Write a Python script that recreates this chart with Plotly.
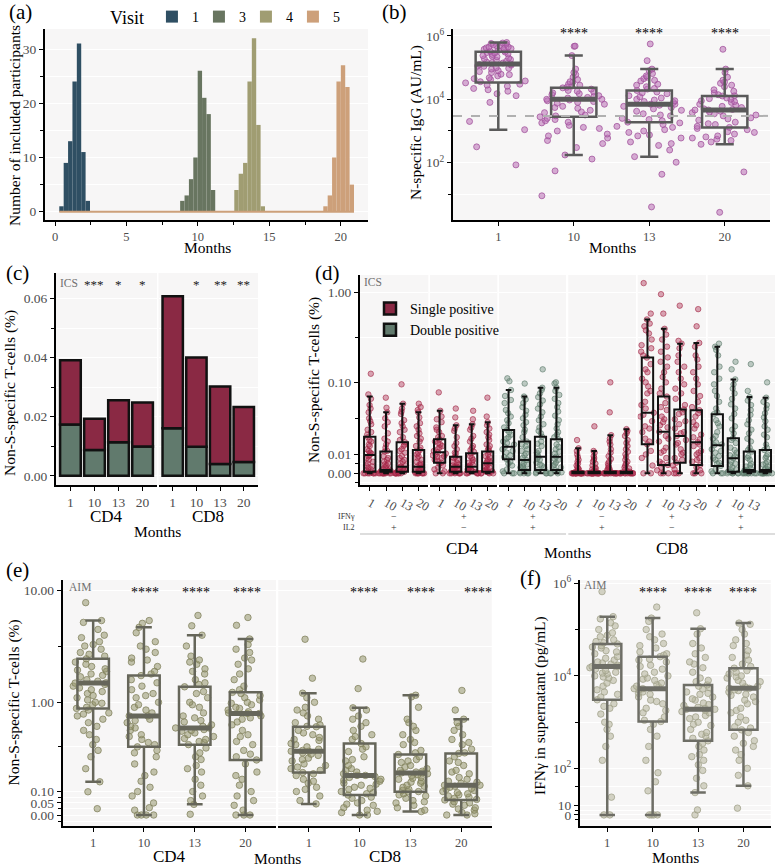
import math
import plotly.graph_objects as go

W, H = 777, 867
FONT = "Liberation Serif"
TICK_COLOR = "#4d4d4d"
PANEL_BG = "#f7f6f6"

# ------------------------------------------------------------------ data
months = ["1", "10", "13", "20"]

# (a) timing of visits (histogram counts per bin)
visit_labels = ["1", "3", "4", "5"]
visit_first_bin = [0.30, 8.76, 12.55, 18.78]      # month at left edge of first bin
visit_bin_width = 0.307
visit1_counts = [1, 9, 13, 24, 31, 11, 2]
visit3_counts = [2, 3, 6, 10, 26, 21, 18, 4]
visit4_counts = [4, 7, 9, 24, 32, 16, 1]
visit5_counts = [1, 3, 10, 24, 27, 23, 5]
visit_colors = ["#2f4f63", "#687560", "#a09d72", "#cda07a"]

# (b) N-specific IgG (AU/mL)
igg_m1 = [620000, 600000, 580000, 550000, 520000, 500000, 480000, 450000, 420000, 400000, 380000,
          350000, 330000, 310000, 290000, 260000, 240000, 220000, 200000, 180000, 160000, 150000,
          140000, 130000, 125000, 115000, 100000, 90000, 80000, 70000, 62000, 55000, 48000, 42000,
          36000, 33000, 30000, 26000, 22000, 18000, 15000, 13000, 8000, 2000, 1100, 316, 85,
          450000, 400000, 350000, 300000, 270000, 230000, 190000, 170000, 145000, 120000, 110000,
          95000, 75000, 60000, 45000, 38000, 28000, 20000]
igg_m10 = [480000, 470000, 240000, 90000, 70000, 60000, 50000, 42000, 36000, 30000, 26000, 23000,
           21000, 19000, 17000, 15000, 14000, 12500, 11000, 10000, 10000, 9000, 8000, 7000, 6000,
           5200, 4500, 3800, 3200, 2800, 2500, 2100, 1800, 1500, 1200, 1000, 800, 600, 400, 300,
           175, 130, 55, 9, 35000, 28000, 24000, 18000, 16000, 13000, 11500, 9500, 8500, 7500,
           5500, 4000, 3000, 2300, 1900, 1300, 700, 500]
igg_m13 = [560000, 166000, 90000, 80000, 65000, 55000, 45000, 38000, 30000, 25000, 21000, 19000,
           17000, 15000, 13000, 11000, 10000, 9000, 8000, 7000, 7000, 6000, 5000, 4200, 3500, 3000,
           2500, 2100, 1900, 1600, 1300, 1100, 900, 750, 600, 450, 350, 250, 155, 103, 43, 4,
           50000, 40000, 28000, 22000, 16000, 12000, 9500, 8500, 6500, 5500, 4500, 3200, 2300,
           1800, 1400, 1000, 700, 400]
igg_m20 = [380000, 90000, 70000, 50000, 40000, 32000, 25000, 20000, 16000, 14000, 12700, 11000,
           10000, 9000, 8000, 7000, 6000, 5000, 4600, 4600, 4000, 3500, 3000, 2600, 2200, 1900,
           1600, 1400, 1300, 1100, 950, 800, 700, 600, 500, 450, 380, 51, 2.7, 35000, 28000,
           18000, 13000, 10500, 8500, 6500, 5500, 4800, 4200, 3800, 3200, 2400, 1700, 1200, 900,
           650, 550]
igg_q1 = [34000, 2800, 1900, 1300]
igg_med = [130000, 10000, 7000, 4600]
igg_q3 = [320000, 23000, 19000, 12700]
igg_lo = [1100, 175, 155, 380]
igg_hi = [620000, 240000, 90000, 90000]
igg_cutoff = 3000
igg_stars = ["", "****", "****", "****"]

# (c) ICS stacked bars (% of T cells)
ics_total_cd4 = [0.0391, 0.0193, 0.0256, 0.0248]
ics_double_cd4 = [0.0174, 0.0087, 0.0114, 0.0099]
ics_total_cd8 = [0.0607, 0.0400, 0.0302, 0.0233]
ics_double_cd8 = [0.0161, 0.0098, 0.0040, 0.0047]
ics_stars_cd4 = ["", "***", "*", "*"]
ics_stars_cd8 = ["", "*", "**", "**"]

# (d) ICS by cytokine combination, facets: CD4(-+, +-, ++), CD8(-+, +-, ++)
d_facet_ifng = ["\u2212", "+", "+", "\u2212", "+", "+"]
d_facet_il2 = ["+", "\u2212", "+", "+", "\u2212", "+"]
d_facet_type = ["single", "single", "double", "single", "single", "double"]

d1_points = [
    [0.125, 0.073, 0.065, 0.055, 0.045, 0.038, 0.032, 0.027, 0.023, 0.021, 0.018, 0.015, 0.013, 0.011,
     0.0096, 0.008, 0.007, 0.005, 0.004, 0.003, 0.002, 0.001, 0.0005, 0, 0, 0, 0, 0,
     0.05, 0.035, 0.025, 0.019, 0.016, 0.012, 0.0105, 0.009, 0.006, 0.0035, 0.0015, 0, 0],
    [0.067, 0.051, 0.045, 0.038, 0.03, 0.024, 0.018, 0.014, 0.0116, 0.009, 0.007, 0.005, 0.004, 0.003,
     0.002, 0.0017, 0.0012, 0.001, 0.0008, 0.0005, 0, 0, 0, 0, 0, 0,
     0.034, 0.02, 0.016, 0.012, 0.008, 0.006, 0.0045, 0.0025, 0.0015, 0, 0, 0],
    [0.095, 0.057, 0.05, 0.043, 0.036, 0.03, 0.025, 0.021, 0.0175, 0.015, 0.012, 0.009, 0.007, 0.005,
     0.004, 0.0034, 0.003, 0.002, 0.0015, 0.001, 0.0008, 0, 0, 0, 0, 0,
     0.046, 0.033, 0.027, 0.019, 0.016, 0.013, 0.011, 0.008, 0.006, 0.0025, 0, 0],
    [0.057, 0.052, 0.045, 0.039, 0.033, 0.027, 0.022, 0.018, 0.015, 0.0126, 0.01, 0.008, 0.006, 0.005,
     0.004, 0.0034, 0.003, 0.002, 0.0015, 0.001, 0.0008, 0, 0, 0, 0, 0,
     0.048, 0.03, 0.024, 0.02, 0.014, 0.011, 0.009, 0.007, 0.0045, 0.0025, 0, 0]]
d1_q1 = [0.0008, 0.0008, 0.0008, 0.0008]
d1_med = [0.0096, 0.0017, 0.0034, 0.0034]
d1_q3 = [0.0214, 0.0116, 0.0175, 0.0126]
d1_lo = [0, 0, 0, 0]
d1_hi = [0.069, 0.045, 0.057, 0.045]

d2_points = [
    [0.077, 0.047, 0.04, 0.034, 0.029, 0.025, 0.022, 0.0195, 0.017, 0.015, 0.013, 0.0112, 0.01, 0.009,
     0.008, 0.007, 0.0055, 0.004, 0.003, 0.002, 0.001, 0,
     0.037, 0.027, 0.021, 0.018, 0.016, 0.014, 0.012, 0.0105, 0.0095, 0.0085, 0.0065, 0.005, 0],
    [0.05, 0.039, 0.031, 0.026, 0.021, 0.017, 0.013, 0.0105, 0.0087, 0.007, 0.0055, 0.0045, 0.0034,
     0.003, 0.0025, 0.002, 0.0015, 0.001, 0.0008, 0.0004, 0, 0, 0, 0,
     0.028, 0.015, 0.011, 0.008, 0.006, 0.004, 0.0035, 0.002, 0.001, 0, 0],
    [0.047, 0.037, 0.032, 0.027, 0.022, 0.018, 0.015, 0.0125, 0.0106, 0.009, 0.007, 0.0055, 0.0045,
     0.0034, 0.003, 0.0025, 0.002, 0.0015, 0.001, 0.0008, 0.0004, 0, 0, 0,
     0.029, 0.02, 0.014, 0.0115, 0.008, 0.006, 0.004, 0.0035, 0.002, 0, 0],
    [0.067, 0.04, 0.034, 0.028, 0.023, 0.019, 0.016, 0.0135, 0.0116, 0.01, 0.0085, 0.007, 0.006,
     0.0052, 0.0045, 0.0035, 0.0025, 0.0018, 0.0012, 0.0008, 0.0004, 0, 0, 0,
     0.031, 0.025, 0.021, 0.015, 0.0125, 0.009, 0.0065, 0.0055, 0.003, 0.001, 0]]
d2_q1 = [0.0055, 0.0008, 0.0008, 0.0008]
d2_med = [0.0112, 0.0034, 0.0034, 0.0052]
d2_q3 = [0.0195, 0.0087, 0.0106, 0.0116]
d2_lo = [0, 0, 0, 0]
d2_hi = [0.047, 0.031, 0.032, 0.034]

d3_points = [
    [0.111, 0.103, 0.082, 0.07, 0.058, 0.048, 0.04, 0.033, 0.0267, 0.023, 0.02, 0.017, 0.0145, 0.013,
     0.011, 0.0095, 0.0073, 0.006, 0.004, 0.002, 0.001, 0, 0,
     0.063, 0.044, 0.036, 0.029, 0.025, 0.021, 0.018, 0.016, 0.012, 0.0085, 0.005, 0],
    [0.097, 0.069, 0.058, 0.047, 0.038, 0.031, 0.025, 0.021, 0.018, 0.015, 0.012, 0.0095, 0.0069, 0.006,
     0.0045, 0.0035, 0.0025, 0.0017, 0.001, 0.0005, 0, 0, 0,
     0.064, 0.052, 0.042, 0.034, 0.027, 0.016, 0.013, 0.0105, 0.008, 0.005, 0.003, 0],
    [0.14, 0.087, 0.075, 0.062, 0.05, 0.04, 0.032, 0.026, 0.0214, 0.018, 0.015, 0.012, 0.01, 0.0087,
     0.007, 0.0055, 0.004, 0.003, 0.0017, 0.001, 0.0005, 0, 0,
     0.082, 0.068, 0.056, 0.045, 0.036, 0.029, 0.024, 0.0165, 0.011, 0.0075, 0.0045, 0],
    [0.1, 0.097, 0.087, 0.072, 0.058, 0.046, 0.036, 0.028, 0.023, 0.0195, 0.016, 0.013, 0.0105, 0.0087,
     0.007, 0.0055, 0.004, 0.003, 0.0017, 0.001, 0.0005, 0, 0,
     0.08, 0.065, 0.052, 0.041, 0.032, 0.025, 0.021, 0.0145, 0.0115, 0.0075, 0.0045, 0]]
d3_q1 = [0.0073, 0.0017, 0.0017, 0.0017]
d3_med = [0.0145, 0.0069, 0.0087, 0.0087]
d3_q3 = [0.0267, 0.018, 0.0214, 0.0195]
d3_lo = [0, 0, 0, 0]
d3_hi = [0.082, 0.069, 0.087, 0.087]

d4_points = [
    [0.019, 0.0136, 0.01, 0.007, 0.005, 0.003, 0.002, 0.0012, 0.0008, 0.0004, 0, 0, 0, 0, 0, 0, 0, 0, 0, 0,
     0.012, 0.0085, 0.006, 0.004, 0.0025, 0.0015, 0, 0, 0, 0, 0, 0],
    [0.03, 0.012, 0.009, 0.007, 0.005, 0.003, 0.002, 0.0012, 0.0008, 0.0004, 0, 0, 0, 0, 0, 0, 0, 0, 0, 0,
     0.011, 0.008, 0.006, 0.004, 0.0025, 0.0015, 0, 0, 0, 0, 0, 0],
    [0.1, 0.045, 0.0226, 0.018, 0.013, 0.009, 0.006, 0.004, 0.0025, 0.0015, 0.0008, 0.0004, 0, 0, 0, 0,
     0, 0, 0, 0, 0.02, 0.016, 0.011, 0.0075, 0.005, 0.003, 0.002, 0, 0, 0, 0, 0],
    [0.0275, 0.026, 0.022, 0.017, 0.013, 0.01, 0.007, 0.005, 0.003, 0.002, 0.0012, 0.0008, 0.0004, 0, 0,
     0, 0, 0, 0, 0, 0.024, 0.019, 0.015, 0.0115, 0.0085, 0.006, 0.004, 0.0025, 0, 0, 0, 0]]
d4_q1 = [0, 0, 0, 0]
d4_med = [0, 0, 0, 0]
d4_q3 = [0.0008, 0.0008, 0.0008, 0.0008]
d4_lo = [0, 0, 0, 0]
d4_hi = [0.0136, 0.012, 0.0226, 0.0275]

d5_points = [
    [1.26, 0.58, 0.5, 0.42, 0.35, 0.3, 0.26, 0.22, 0.189, 0.16, 0.13, 0.11, 0.09, 0.075, 0.06, 0.05,
     0.0445, 0.04, 0.035, 0.03, 0.025, 0.02, 0.0161, 0.012, 0.008, 0.004, 0, 0,
     0.45, 0.38, 0.24, 0.2, 0.14, 0.1, 0.08, 0.055, 0.042, 0.028, 0.018, 0.01],
    [0.95, 0.58, 0.394, 0.3, 0.22, 0.17, 0.13, 0.1, 0.085, 0.069, 0.058, 0.048, 0.04, 0.034, 0.029,
     0.0253, 0.022, 0.018, 0.014, 0.011, 0.008, 0.006, 0.0043, 0.003, 0.0015, 0, 0, 0,
     0.34, 0.25, 0.19, 0.15, 0.115, 0.075, 0.052, 0.037, 0.031, 0.02, 0.012, 0.005],
    [0.71, 0.29, 0.27, 0.2, 0.15, 0.11, 0.085, 0.065, 0.0488, 0.043, 0.037, 0.032, 0.028, 0.025, 0.022,
     0.019, 0.016, 0.013, 0.01, 0.008, 0.0055, 0.004, 0.002, 0, 0, 0,
     0.24, 0.17, 0.13, 0.095, 0.075, 0.055, 0.045, 0.035, 0.024, 0.017, 0.011, 0.007],
    [0.65, 0.42, 0.275, 0.2, 0.15, 0.11, 0.08, 0.06, 0.0478, 0.04, 0.034, 0.028, 0.023, 0.0195, 0.0175,
     0.015, 0.012, 0.01, 0.008, 0.006, 0.0043, 0.003, 0.0015, 0, 0, 0,
     0.25, 0.18, 0.13, 0.095, 0.07, 0.052, 0.044, 0.031, 0.021, 0.016, 0.011, 0.007]]
d5_q1 = [0.0161, 0.0043, 0.0055, 0.0043]
d5_med = [0.0445, 0.0253, 0.022, 0.0175]
d5_q3 = [0.189, 0.069, 0.0488, 0.0478]
d5_lo = [0, 0, 0, 0]
d5_hi = [0.50, 0.394, 0.27, 0.275]

d6_points = [
    [0.27, 0.25, 0.2, 0.15, 0.11, 0.08, 0.06, 0.05, 0.0427, 0.036, 0.03, 0.025, 0.02, 0.0175, 0.0155,
     0.013, 0.011, 0.009, 0.007, 0.0055, 0.0038, 0.002, 0.001, 0, 0,
     0.23, 0.13, 0.095, 0.07, 0.045, 0.033, 0.022, 0.016, 0.012, 0.008, 0.005, 0],
    [0.17, 0.14, 0.108, 0.085, 0.065, 0.05, 0.038, 0.03, 0.024, 0.0203, 0.017, 0.014, 0.011, 0.0095,
     0.0079, 0.006, 0.0045, 0.003, 0.002, 0.0008, 0.0004, 0, 0, 0,
     0.095, 0.075, 0.056, 0.043, 0.027, 0.019, 0.0125, 0.009, 0.005, 0.0015, 0, 0],
    [0.16, 0.08, 0.068, 0.055, 0.042, 0.032, 0.024, 0.018, 0.014, 0.0116, 0.009, 0.007, 0.005, 0.0035,
     0.0025, 0.0017, 0.0012, 0.0008, 0.0004, 0, 0, 0, 0, 0,
     0.062, 0.048, 0.036, 0.027, 0.02, 0.0125, 0.008, 0.004, 0.0015, 0, 0, 0],
    [0.1, 0.067, 0.055, 0.044, 0.035, 0.027, 0.021, 0.016, 0.0126, 0.01, 0.008, 0.006, 0.0045, 0.0035,
     0.0025, 0.0017, 0.0012, 0.0008, 0.0004, 0, 0, 0, 0, 0,
     0.06, 0.05, 0.039, 0.03, 0.023, 0.014, 0.009, 0.005, 0.002, 0, 0, 0]]
d6_q1 = [0.0038, 0.0008, 0.0008, 0.0008]
d6_med = [0.0155, 0.0079, 0.0017, 0.0017]
d6_q3 = [0.0427, 0.0203, 0.0116, 0.0126]
d6_lo = [0, 0, 0, 0]
d6_hi = [0.25, 0.108, 0.068, 0.067]

# (e) AIM (% of T cells)
aim_cd4_points = [
    [7.8, 5.4, 5.2, 4.5, 4.0, 3.8, 3.5, 3.2, 3.0, 2.8, 2.6, 2.46, 2.3, 2.1, 2.0, 1.9, 1.8, 1.7, 1.6,
     1.5, 1.49, 1.45, 1.4, 1.3, 1.25, 1.2, 1.1, 1.05, 1.0, 0.95, 0.9, 0.88, 0.8, 0.75, 0.7, 0.65, 0.55,
     0.45, 0.4, 0.3, 0.22, 0.147, 0.099, 0.026,
     3.3, 2.7, 2.2, 1.95, 1.75, 1.55, 1.35, 1.15, 0.98, 0.85, 0.78, 0.6, 0.5, 0.35],
    [5.4, 5.1, 4.7, 4.2, 3.5, 3.0, 2.8, 2.5, 2.3, 2.1, 1.9, 1.74, 1.6, 1.5, 1.3, 1.2, 1.1, 1.0, 0.9,
     0.8, 0.75, 0.75, 0.7, 0.65, 0.6, 0.55, 0.5, 0.45, 0.4, 0.38, 0.35, 0.3, 0.25, 0.2, 0.15, 0.12,
     0.08, 0.05, 0.03, 0.02, 0.0, 0.0, 0.0, 0.0,
     3.2, 2.4, 1.8, 1.4, 1.15, 0.95, 0.85, 0.68, 0.58, 0.48, 0.42, 0.33, 0.18, 0.1],
    [6.0, 4.85, 4.0, 3.2, 2.6, 2.4, 2.2, 2.0, 1.8, 1.6, 1.5, 1.38, 1.25, 1.1, 1.0, 0.9, 0.8, 0.72,
     0.66, 0.62, 0.58, 0.58, 0.55, 0.52, 0.5, 0.48, 0.45, 0.42, 0.40, 0.37, 0.33, 0.28, 0.24, 0.2,
     0.16, 0.13, 0.1, 0.08, 0.06, 0.044, 0.003,
     2.3, 1.9, 1.45, 1.2, 0.95, 0.75, 0.68, 0.6, 0.56, 0.54, 0.46, 0.43, 0.3, 0.22],
    [5.75, 4.9, 3.7, 3.0, 2.8, 2.5, 2.2, 2.0, 1.8, 1.6, 1.4, 1.23, 1.15, 1.1, 1.0, 0.95, 0.9, 0.85,
     0.8, 0.79, 0.79, 0.75, 0.7, 0.62, 0.55, 0.48, 0.4, 0.35, 0.3, 0.277, 0.25, 0.2, 0.16, 0.13, 0.1,
     0.08, 0.06, 0.04, 0.02, 0.0, 0.0, 0.0,
     3.3, 2.4, 1.3, 1.2, 1.05, 0.98, 0.88, 0.82, 0.72, 0.66, 0.5, 0.43, 0.32, 0.18]]
aim_cd4_q1 = [0.88, 0.38, 0.40, 0.277]
aim_cd4_med = [1.49, 0.75, 0.58, 0.79]
aim_cd4_q3 = [2.46, 1.74, 1.38, 1.23]
aim_cd4_lo = [0.147, 0.0, 0.044, 0.0]
aim_cd4_hi = [5.4, 4.7, 4.0, 3.7]

aim_cd8_points = [
    [3.68, 1.65, 1.21, 1.1, 1.0, 0.9, 0.8, 0.75, 0.7, 0.65, 0.6, 0.595, 0.55, 0.5, 0.47, 0.44, 0.41,
     0.38, 0.36, 0.343, 0.343, 0.33, 0.31, 0.29, 0.27, 0.25, 0.23, 0.21, 0.197, 0.18, 0.16, 0.14,
     0.12, 0.1, 0.08, 0.06, 0.046,
     0.85, 0.62, 0.52, 0.45, 0.4, 0.35, 0.32, 0.28, 0.24, 0.22, 0.19, 0.15, 0.11],
    [2.45, 1.33, 0.89, 0.85, 0.75, 0.65, 0.6, 0.55, 0.5, 0.45, 0.41, 0.38, 0.34, 0.3, 0.27, 0.24,
     0.22, 0.2, 0.19, 0.181, 0.181, 0.17, 0.16, 0.15, 0.14, 0.13, 0.12, 0.11, 0.1, 0.09, 0.084, 0.07,
     0.06, 0.05, 0.04, 0.03, 0.02, 0.01, 0.0, 0.0,
     0.7, 0.48, 0.36, 0.28, 0.21, 0.175, 0.155, 0.135, 0.115, 0.095, 0.075, 0.045, 0.015],
    [1.16, 1.12, 0.9, 0.7, 0.6, 0.55, 0.5, 0.45, 0.4, 0.35, 0.317, 0.3, 0.28, 0.26, 0.24, 0.22, 0.21,
     0.2, 0.195, 0.195, 0.19, 0.18, 0.17, 0.16, 0.15, 0.14, 0.13, 0.12, 0.11, 0.1, 0.099, 0.09, 0.08,
     0.07, 0.06, 0.05, 0.04, 0.03, 0.02, 0.014,
     0.65, 0.42, 0.33, 0.27, 0.23, 0.205, 0.185, 0.165, 0.145, 0.125, 0.105, 0.085, 0.055],
    [1.28, 0.85, 0.7, 0.65, 0.55, 0.5, 0.45, 0.4, 0.36, 0.325, 0.3, 0.27, 0.24, 0.21, 0.19, 0.17,
     0.15, 0.14, 0.13, 0.13, 0.125, 0.12, 0.11, 0.1, 0.095, 0.09, 0.08, 0.075, 0.07, 0.0625, 0.055,
     0.05, 0.04, 0.03, 0.02, 0.01, 0.0, 0.0,
     0.6, 0.42, 0.33, 0.26, 0.2, 0.16, 0.145, 0.115, 0.105, 0.085, 0.065, 0.045, 0.025, 0.005]]
aim_cd8_q1 = [0.197, 0.084, 0.099, 0.0625]
aim_cd8_med = [0.343, 0.181, 0.195, 0.13]
aim_cd8_q3 = [0.595, 0.41, 0.317, 0.325]
aim_cd8_lo = [0.046, 0.0, 0.014, 0.0]
aim_cd8_hi = [1.21, 0.89, 1.16, 0.70]
aim_stars = ["", "****", "****", "****"]

# (f) IFN-gamma in supernatant (pg/mL)
ifng_points = [
    [660000, 190000, 170000, 140000, 120000, 100000, 85000, 70000, 60000, 52000, 49000, 45000, 40000,
     35000, 30000, 26000, 22000, 19000, 17000, 16000, 16000, 15000, 13000, 12000, 11000, 10000, 9000,
     8000, 7000, 6000, 5000, 4000, 3500, 3050, 2500, 2000, 1500, 1000, 700, 500, 300, 150, 20, 0, 0,
     75000, 55000, 42000, 33000, 24000, 20000, 18000, 14000, 11500, 9500, 4500, 2200, 900],
    [306000, 177000, 150000, 100000, 80000, 60000, 50000, 40000, 33000, 28000, 26000, 23000, 20000,
     17000, 14000, 12000, 10000, 9000, 8000, 7000, 6000, 5300, 5300, 5000, 4500, 4000, 3500, 3000,
     2500, 2000, 1600, 1300, 1035, 900, 700, 500, 300, 150, 80, 50, 30, 0, 0, 0, 0,
     70000, 45000, 30000, 22000, 16000, 11000, 8500, 6500, 5800, 4200, 2800, 1800, 1100],
    [230000, 104000, 80000, 50000, 30000, 25000, 20000, 15000, 12000, 9000, 7500, 6400, 6000, 5200,
     4500, 4000, 3500, 3000, 2600, 2300, 2100, 1900, 1900, 1800, 1600, 1400, 1200, 1000, 850, 700,
     600, 500, 396, 350, 300, 250, 200, 150, 120, 90, 60, 40, 27, 5, 0,
     40000, 18000, 8000, 5600, 4200, 3200, 2400, 2000, 1700, 1300, 900, 550, 450, 180],
    [138000, 130000, 100000, 80000, 60000, 45000, 35000, 28000, 22000, 18000, 14700, 13000, 11000,
     10000, 9000, 8000, 7000, 6000, 5400, 5400, 5000, 4500, 4000, 3500, 3000, 2500, 2000, 1600, 1300,
     1000, 800, 684, 600, 500, 400, 300, 250, 200, 150, 100, 70, 40, 6.8,
     50000, 25000, 16000, 12000, 9500, 7500, 5800, 4800, 3800, 2800, 1800, 1100, 750, 350]]
ifng_q1 = [3050, 1035, 396, 684]
ifng_med = [16000, 5300, 1900, 5400]
ifng_q3 = [49000, 26000, 6400, 14700]
ifng_lo = [0, 0, 27, 40]
ifng_hi = [190000, 177000, 104000, 138000]
ifng_stars = ["", "****", "****", "****"]

SINGLE_C = "#8a2944"
DOUBLE_C = "#617a6d"


# ------------------------------------------------------------------ helpers
def px(x):
    return x / W


def py(y):
    return 1 - y / H


def dom_x(a, b):
    return [a / W, b / W]


def dom_y(top, bottom):
    return [1 - bottom / H, 1 - top / H]


def pseudo_log(sigma):
    return lambda v: math.asinh(v / (2 * sigma)) / math.log(10)


T_d = pseudo_log(0.01)
T_e = pseudo_log(0.1)
T_f = pseudo_log(10)


def ident(v):
    return v


def names(n):
    return ("x" if n == 1 else f"x{n}"), ("y" if n == 1 else f"y{n}")


fig = go.Figure()
axes = {}
ann = []
shapes = []


def tickfont(size=13.5):
    return dict(family=FONT, size=size, color=TICK_COLOR)


def xcfg(**kw):
    d = dict(showline=True, linecolor="black", linewidth=2, ticks="outside", ticklen=4,
             tickwidth=1.2, tickcolor="black", showgrid=False, zeroline=False,
             tickfont=tickfont(12.5), fixedrange=True)
    d.update(kw)
    return d


def ycfg(show=True, **kw):
    d = dict(showline=show, linecolor="black", linewidth=2, ticks="outside" if show else "",
             ticklen=4, tickwidth=1.2, tickcolor="black", showgrid=True, gridcolor="white",
             gridwidth=1.3, zeroline=False, showticklabels=show, tickfont=tickfont(),
             fixedrange=True)
    d.update(kw)
    return d


def minor(vals, show=True):
    return dict(tickmode="array", tickvals=vals, ticks="outside" if show else "", ticklen=3,
                tickcolor="black", tickwidth=1, showgrid=True, gridcolor="white", gridwidth=0.7)


def set_axes(n, xd, yd, xc, yc):
    xs, ys = names(n)
    key = "" if n == 1 else str(n)
    xc = dict(xc)
    xc.update(domain=xd, anchor=ys)
    yc = dict(yc)
    yc.update(domain=yd, anchor=xs)
    axes["xaxis" + key] = xc
    axes["yaxis" + key] = yc


def text(x, y, s, size, color="black", xanchor="center", yanchor="middle", angle=0,
         xref="paper", yref="paper"):
    ann.append(dict(x=x, y=y, xref=xref, yref=yref, text=s, showarrow=False, textangle=angle,
                    xanchor=xanchor, yanchor=yanchor,
                    font=dict(family=FONT, size=size, color=color)))


def add_boxes(n, pts_lists, q1, med, q3, lo, hi, tf, pt_fill, pt_line, msize, box_color,
              box_lw, box_w, pt_w, med_lw=None, whisk=0.45):
    xs, ys = names(n)
    bx, by = [], []
    for i, pts in enumerate(pts_lists):
        bx += [i + 1] * len(pts)
        by += [tf(v) for v in pts]
    fig.add_trace(go.Box(
        x=bx, y=by, xaxis=xs, yaxis=ys, boxpoints="all", jitter=1, pointpos=0, width=pt_w,
        line=dict(width=0, color="rgba(0,0,0,0)"), fillcolor="rgba(0,0,0,0)",
        marker=dict(size=msize, color=pt_fill, line=dict(width=1, color=pt_line)),
        hoverinfo="skip", showlegend=False))
    pos = list(range(1, len(q1) + 1))
    fig.add_trace(go.Box(
        x=pos, q1=[tf(v) for v in q1], median=[tf(v) for v in med], q3=[tf(v) for v in q3],
        lowerfence=[tf(v) for v in lo], upperfence=[tf(v) for v in hi], boxpoints=False,
        width=box_w, whiskerwidth=whisk, line=dict(color=box_color, width=box_lw),
        fillcolor="rgba(0,0,0,0)", xaxis=xs, yaxis=ys, hoverinfo="skip", showlegend=False))
    if med_lw:
        lx, ly = [], []
        for i, m in enumerate(med):
            lx += [i + 1 - box_w / 2, i + 1 + box_w / 2, None]
            ly += [tf(m), tf(m), None]
        fig.add_trace(go.Scatter(x=lx, y=ly, mode="lines", xaxis=xs, yaxis=ys,
                                 line=dict(color=box_color, width=med_lw),
                                 hoverinfo="skip", showlegend=False))


cat_pos = [1, 2, 3, 4]
CAT_RANGE = [0.4, 4.6]

# ------------------------------------------------------------------ (a)
counts_all = [visit1_counts, visit3_counts, visit4_counts, visit5_counts]
for lab, start, counts, col in zip(visit_labels, visit_first_bin, counts_all, visit_colors):
    centers = [start + visit_bin_width * (i + 0.5) for i in range(len(counts))]
    fig.add_trace(go.Bar(x=centers, y=counts, width=visit_bin_width, name=lab,
                         marker=dict(color=col, line=dict(width=0)), xaxis="x", yaxis="y",
                         legend="legend", hoverinfo="skip"))
span_start = min(visit_first_bin)
span_end = max(s + visit_bin_width * len(c) for s, c in zip(visit_first_bin, counts_all))
fig.add_trace(go.Scatter(x=[span_start, span_end], y=[0, 0], mode="lines",
                         line=dict(color=visit_colors[-1], width=2), xaxis="x", yaxis="y",
                         showlegend=False, hoverinfo="skip"))
set_axes(1, dom_x(45, 368), dom_y(29, 220),
         xcfg(range=[-0.70, 21.91], tickmode="array", tickvals=[0, 5, 10, 15, 20],
              minor=dict(tickmode="linear", tick0=0, dtick=2.5, ticks="outside", ticklen=3,
                         tickcolor="black", showgrid=False)),
         ycfg(range=[-1.53, 33.69], tickmode="array", tickvals=[0, 10, 20, 30],
              minor=minor([5, 15, 25])))
text(px(14), py(126), "Number of included participants", 15.5, angle=-90)
text(px(207), py(247), "Months", 15.5)
text(px(20), py(12), "(a)", 21)

# ------------------------------------------------------------------ (b)
fig.add_trace(go.Scatter(x=CAT_RANGE, y=[igg_cutoff, igg_cutoff], mode="lines",
                         line=dict(color="#b0b0b0", width=2, dash="dash"), xaxis="x2",
                         yaxis="y2", showlegend=False, hoverinfo="skip"))
add_boxes(2, [igg_m1, igg_m10, igg_m13, igg_m20], igg_q1, igg_med, igg_q3, igg_lo, igg_hi, ident,
          "rgba(185,110,180,0.55)", "rgba(160,80,155,0.75)", 6, "#5a5a5a", 2.5, 0.6, 0.9,
          med_lw=5, whisk=0.4)
set_axes(2, dom_x(453, 770), dom_y(29, 220),
         xcfg(range=CAT_RANGE, tickmode="array", tickvals=cat_pos, ticktext=months),
         ycfg(type="log", range=[0.19, 6.22], tickmode="array", tickvals=[1e2, 1e4, 1e6],
              ticktext=["10<sup>2</sup>", "10<sup>4</sup>", "10<sup>6</sup>"],
              minor=minor([1e1, 1e3, 1e5])))
for i, s in enumerate(igg_stars):
    if s:
        text(cat_pos[i], py(33), s, 14, xref="x2")
text(px(416), py(123), "N-specific IgG (AU/mL)", 15.5, angle=-90)
text(px(612), py(247), "Months", 15.5)
text(px(395), py(12), "(b)", 21)

# ------------------------------------------------------------------ (c)
c_dom_y = dom_y(273, 485)
c_yc = dict(range=[-0.0031, 0.0686], tickmode="array", tickvals=[0, 0.02, 0.04, 0.06],
            ticktext=["0.00", "0.02", "0.04", "0.06"])
for n, tot, dbl, stars, xd, show in [(3, ics_total_cd4, ics_double_cd4, ics_stars_cd4, dom_x(56, 157), True),
                                     (4, ics_total_cd8, ics_double_cd8, ics_stars_cd8, dom_x(158.5, 258), False)]:
    xs, ys = names(n)
    fig.add_trace(go.Bar(x=cat_pos, y=dbl, width=0.86, name="Double positive",
                         marker=dict(color=DOUBLE_C, line=dict(color="#111111", width=2.5)),
                         xaxis=xs, yaxis=ys, legend="legend2", showlegend=show, hoverinfo="skip"))
    fig.add_trace(go.Bar(x=cat_pos, y=[t - d for t, d in zip(tot, dbl)], base=dbl, width=0.86,
                         name="Single positive",
                         marker=dict(color=SINGLE_C, line=dict(color="#111111", width=2.5)),
                         xaxis=xs, yaxis=ys, legend="legend2", showlegend=show, hoverinfo="skip"))
    set_axes(n, xd, c_dom_y,
             xcfg(range=CAT_RANGE, tickmode="array", tickvals=cat_pos, ticktext=months,
                  tickfont=tickfont(13.5)),
             ycfg(show=(n == 3), minor=minor([0.01, 0.03, 0.05], show=(n == 3)), **c_yc))
    for i, s in enumerate(stars):
        if s:
            text(cat_pos[i], py(284), s, 13, color="#222222", xref=xs)
text(px(58), py(283), "ICS", 11.5, color="#707070", xanchor="left")
text(px(106.5), py(516), "CD4", 17)
text(px(208), py(516), "CD8", 17)
text(px(157), py(531), "Months", 15.5)
text(px(10), py(393), "Non-S-specific T-cells (%)", 15.5, angle=-90)
text(px(17), py(273), "(c)", 21)

# ------------------------------------------------------------------ (d)
d_edges = [(360, 428.3), (430, 497.3), (499, 566), (568.3, 636), (637.7, 706), (707.7, 775)]
d_sets = [(d1_points, d1_q1, d1_med, d1_q3, d1_lo, d1_hi),
          (d2_points, d2_q1, d2_med, d2_q3, d2_lo, d2_hi),
          (d3_points, d3_q1, d3_med, d3_q3, d3_lo, d3_hi),
          (d4_points, d4_q1, d4_med, d4_q3, d4_lo, d4_hi),
          (d5_points, d5_q1, d5_med, d5_q3, d5_lo, d5_hi),
          (d6_points, d6_q1, d6_med, d6_q3, d6_lo, d6_hi)]
d_major = [0, 0.01, 0.1, 1]
d_minor = [(T_d(-0.01) + T_d(0)) / 2] + [(T_d(a) + T_d(b)) / 2 for a, b in zip(d_major[:-1], d_major[1:])]
for k, ((x0, x1), ds) in enumerate(zip(d_edges, d_sets)):
    n = 5 + k
    if d_facet_type[k] == "single":
        fill, edge = "rgba(175,45,80,0.42)", "rgba(160,35,65,0.6)"
    else:
        fill, edge = "rgba(105,135,120,0.42)", "rgba(90,120,105,0.6)"
    add_boxes(n, ds[0], ds[1], ds[2], ds[3], ds[4], ds[5], T_d, fill, edge, 5.5, "#111111", 2,
              0.7, 0.9, whisk=0.5)
    set_axes(n, dom_x(x0, x1), dom_y(275, 485),
             xcfg(range=CAT_RANGE, tickmode="array", tickvals=cat_pos, ticktext=months,
                  tickangle=30, tickfont=tickfont(12.5)),
             ycfg(show=(k == 0), range=[-0.129, 2.19], tickmode="array",
                  tickvals=[T_d(v) for v in d_major], ticktext=["0.00", "0.01", "0.10", "1.00"],
                  minor=minor(d_minor, show=(k == 0))))
    xc = (x0 + x1) / 2
    text(px(xc), py(516), d_facet_ifng[k], 10, color="#333333")
    text(px(xc), py(527), d_facet_il2[k], 10, color="#333333")
text(px(357), py(516), "IFN\u03b3", 8, color="#333333", xanchor="right")
text(px(357), py(527), "IL2", 8, color="#333333", xanchor="right")
shapes.append(dict(type="line", xref="paper", yref="paper", x0=px(360), x1=px(566),
                   y0=py(534), y1=py(534), line=dict(color="#bbbbbb", width=1)))
shapes.append(dict(type="line", xref="paper", yref="paper", x0=px(568.3), x1=px(775),
                   y0=py(534), y1=py(534), line=dict(color="#bbbbbb", width=1)))
text(px(463), py(548), "CD4", 17)
text(px(672), py(548), "CD8", 17)
text(px(567), py(552), "Months", 15.5)
text(px(362), py(282), "ICS", 11.5, color="#707070", xanchor="left")
text(px(314), py(380), "Non-S-specific T-cells (%)", 15.5, angle=-90)
text(px(327), py(273), "(d)", 21)

# ------------------------------------------------------------------ (e)
e_major = [0, 0.05, 0.1, 1, 10]
e_minor = [(T_e(-0.05) + T_e(0)) / 2] + [(T_e(a) + T_e(b)) / 2 for a, b in zip(e_major[:-1], e_major[1:])]
for n, data, xd, star_shift in [
        (11, (aim_cd4_points, aim_cd4_q1, aim_cd4_med, aim_cd4_q3, aim_cd4_lo, aim_cd4_hi), dom_x(62.7, 276), [0, 0.03, 0.03, 0.03]),
        (12, (aim_cd8_points, aim_cd8_q1, aim_cd8_med, aim_cd8_q3, aim_cd8_lo, aim_cd8_hi), dom_x(278.3, 491.7), [0, 0.08, 0.2, 0.33])]:
    add_boxes(n, data[0], data[1], data[2], data[3], data[4], data[5], T_e,
              "rgba(150,150,108,0.55)", "rgba(128,128,92,0.75)", 6.5, "#66665a", 2.5, 0.62, 0.85,
              med_lw=5, whisk=0.5)
    set_axes(n, xd, dom_y(580, 826),
             xcfg(range=CAT_RANGE, tickmode="array", tickvals=cat_pos, ticktext=months),
             ycfg(show=(n == 11), range=[-0.098, 2.094], tickmode="array",
                  tickvals=[T_e(v) for v in e_major],
                  ticktext=["0.00", "0.05", "0.10", "1.00", "10.00"],
                  minor=minor(e_minor, show=(n == 11))))
    xs, ys = names(n)
    for i, s in enumerate(aim_stars):
        if s:
            text(cat_pos[i] + star_shift[i], py(592), s, 14, xref=xs)
text(px(67), py(587), "AIM", 11.5, color="#707070", xanchor="left")
text(px(169), py(856), "CD4", 17)
text(px(385), py(856), "CD8", 17)
text(px(277), py(858), "Months", 15.5)
text(px(13.5), py(703), "Non-S-specific T-cells (%)", 15.5, angle=-90)
text(px(17), py(570), "(e)", 21)

# ------------------------------------------------------------------ (f)
f_major = [0, 10, 100, 1e4, 1e6]
f_minor = [(T_f(-10) + T_f(0)) / 2] + [(T_f(a) + T_f(b)) / 2 for a, b in zip(f_major[:-1], f_major[1:])]
add_boxes(13, ifng_points, ifng_q1, ifng_med, ifng_q3, ifng_lo, ifng_hi, T_f,
          "rgba(185,185,162,0.6)", "rgba(160,160,138,0.75)", 6.5, "#6e6e66", 2.5, 0.62, 0.82,
          med_lw=5, whisk=0.55)
set_axes(13, dom_x(580, 770.7), dom_y(580, 826),
         xcfg(range=CAT_RANGE, tickmode="array", tickvals=cat_pos, ticktext=months),
         ycfg(range=[-0.24, 5.07], tickmode="array", tickvals=[T_f(v) for v in f_major],
              ticktext=["0", "10", "10<sup>2</sup>", "10<sup>4</sup>", "10<sup>6</sup>"],
              minor=minor(f_minor)))
for i, s in enumerate(ifng_stars):
    if s:
        text(cat_pos[i], py(592), s, 14, xref="x13")
text(px(582), py(585), "AIM", 11.5, color="#707070", xanchor="left")
text(px(675), py(857), "Months", 15.5)
text(px(540), py(706), "IFN\u03b3 in supernatant (pg/mL)", 15.5, angle=-90)
text(px(530), py(578), "(f)", 21)

# ------------------------------------------------------------------ layout
fig.update_layout(
    width=W, height=H, margin=dict(l=0, r=0, t=0, b=0, autoexpand=False),
    paper_bgcolor="white", plot_bgcolor=PANEL_BG, barmode="overlay", boxmode="overlay",
    font=dict(family=FONT, color="black"), showlegend=True,
    legend=dict(orientation="h", x=px(108), y=py(18), xanchor="left", yanchor="middle",
                bgcolor="rgba(0,0,0,0)", font=dict(family=FONT, size=14, color="black"),
                title=dict(text="Visit", font=dict(family=FONT, size=18, color="black")),
                entrywidth=2, entrywidthmode="pixels",
                traceorder="normal", itemclick=False, itemdoubleclick=False),
    legend2=dict(x=px(370), y=py(293), xanchor="left", yanchor="top", bgcolor="rgba(0,0,0,0)",
                 font=dict(family=FONT, size=14, color="black"), traceorder="reversed",
                 itemclick=False, itemdoubleclick=False),
    annotations=ann, shapes=shapes, **axes)

fig.write_html("out.html", config={"displayModeBar": False},
               post_script="document.body.style.margin='0px';")
